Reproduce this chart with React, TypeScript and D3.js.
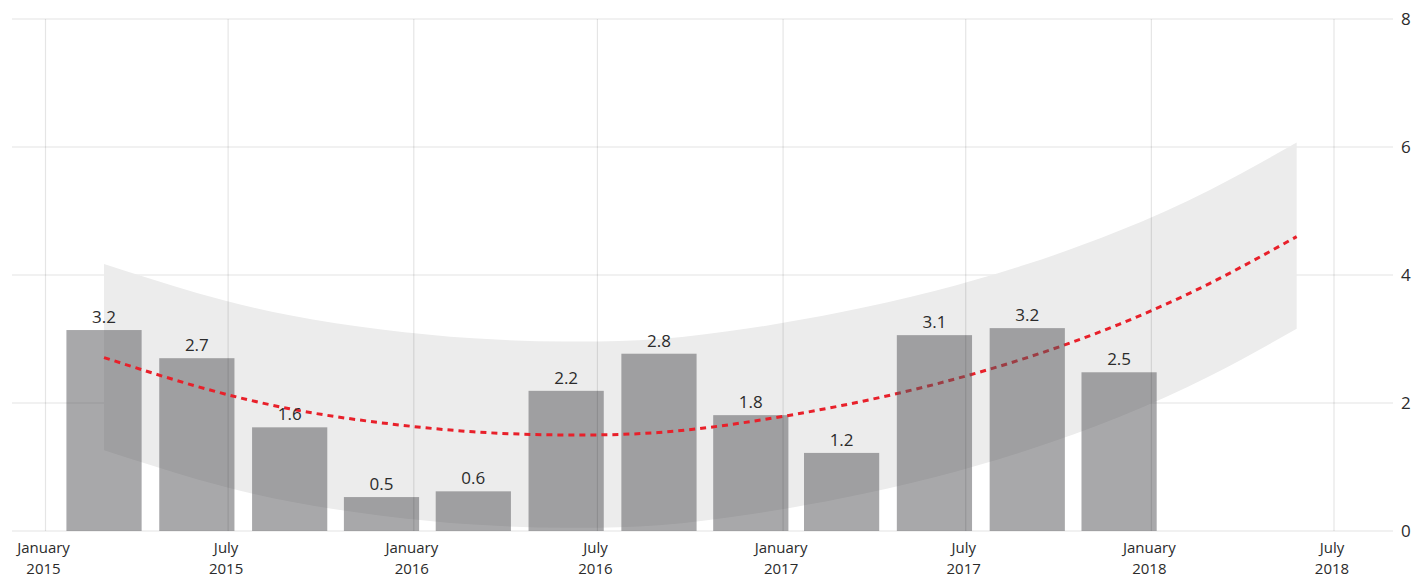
import React from "react";
import * as d3 from "d3";

// ---- data ----
const barDates = [
  "2015-02-28", "2015-05-31", "2015-08-31", "2015-11-30",
  "2016-02-29", "2016-05-31", "2016-08-31", "2016-11-30",
  "2017-02-28", "2017-05-31", "2017-08-31", "2017-11-30",
];
const barValues = [3.14, 2.7, 1.62, 0.53, 0.62, 2.19, 2.77, 1.81, 1.22, 3.06, 3.17, 2.48];
const barLabels = ["3.2", "2.7", "1.6", "0.5", "0.6", "2.2", "2.8", "1.8", "1.2", "3.1", "3.2", "2.5"];

const trendDates = [...barDates, "2018-02-28", "2018-05-25"];
const trendValues = [2.71, 2.26, 1.91, 1.69, 1.55, 1.5, 1.54, 1.71, 1.96, 2.29, 2.71, 3.23, 3.87, 4.6];
const bandUpper = [4.17, 3.72, 3.37, 3.15, 3.01, 2.96, 3.0, 3.17, 3.42, 3.75, 4.17, 4.69, 5.33, 6.07];
const bandLower = [1.26, 0.81, 0.46, 0.24, 0.1, 0.05, 0.09, 0.26, 0.51, 0.84, 1.26, 1.78, 2.42, 3.16];

const xTickDates = [
  "2015-01-01", "2015-07-01", "2016-01-01", "2016-07-01",
  "2017-01-01", "2017-07-01", "2018-01-01", "2018-07-01",
];
const yTicks = [0, 2, 4, 6, 8];

// indices of bars that sit above the trend line in the drawing order
const barsOverTrend = [9, 10];

const W = 1413;
const H = 579;
const FONT = "'Open Sans', 'Noto Sans', sans-serif";

export default function App() {
  const parse = d3.timeParse("%Y-%m-%d");
  const plotLeft = 12;
  const plotRight = 1393;
  const plotTop = 19;
  const plotBottom = 531;

  const x = d3
    .scaleTime()
    .domain([parse("2015-01-01")!, parse("2018-07-01")!])
    .range([45.5, 1334]);
  const y = d3.scaleLinear().domain([0, 8]).range([plotBottom, plotTop]);

  const bDates = barDates.map((d) => parse(d)!);
  const tDates = trendDates.map((d) => parse(d)!);
  const step = (x(bDates[bDates.length - 1]) - x(bDates[0])) / (bDates.length - 1);
  const bw = step * 0.815;

  const bandPts = tDates.map((d, i) => ({ d, lo: bandLower[i], hi: bandUpper[i] }));
  const area = d3
    .area<{ d: Date; lo: number; hi: number }>()
    .x((p) => x(p.d))
    .y0((p) => y(p.lo))
    .y1((p) => y(p.hi))
    .curve(d3.curveNatural);
  const trendPts = tDates.map((d, i) => ({ d, v: trendValues[i] }));
  const line = d3
    .line<{ d: Date; v: number }>()
    .x((p) => x(p.d))
    .y((p) => y(p.v))
    .curve(d3.curveNatural);

  const monthFmt = d3.timeFormat("%B");
  const yearFmt = d3.timeFormat("%Y");

  const bar = (i: number) => (
    <rect
      key={"b" + i}
      x={x(bDates[i]) - bw / 2}
      y={y(barValues[i])}
      width={bw}
      height={y(0) - y(barValues[i])}
      fill="#58585c"
      fillOpacity={0.52}
    />
  );
  const under = barValues.map((_, i) => i).filter((i) => !barsOverTrend.includes(i));

  return (
    <svg
      width={W}
      height={H}
      style={{ position: "absolute", left: 0, top: 0, background: "#fff" }}
      fontFamily={FONT}
    >
      {/* horizontal grid */}
      {yTicks.map((t) => (
        <line key={"h" + t} x1={plotLeft} x2={plotRight} y1={y(t)} y2={y(t)} stroke="#e3e3e3" strokeWidth={1.2} />
      ))}
      {/* confidence band */}
      <path d={area(bandPts) || ""} fill="#ececec" />
      {under.map(bar)}
      {/* trend */}
      <path
        d={line(trendPts) || ""}
        fill="none"
        stroke="#e8202a"
        strokeWidth={3}
        strokeDasharray="6 5"
      />
      {barsOverTrend.map(bar)}
      {/* vertical grid */}
      {xTickDates.map((d) => {
        const xx = x(parse(d)!);
        return (
          <line key={"v" + d} x1={xx} x2={xx} y1={plotTop} y2={plotBottom} stroke="#000" strokeOpacity={0.1} strokeWidth={1.2} />
        );
      })}
      {/* bar labels */}
      {barLabels.map((l, i) => (
        <text
          key={"l" + i}
          x={x(bDates[i])}
          y={y(barValues[i]) - 7}
          textAnchor="middle"
          fontSize={17}
          fill="#2b2b2b"
        >
          {l}
        </text>
      ))}
      {/* y axis labels (right) */}
      {yTicks.map((t) => (
        <text key={"yl" + t} x={1401} y={y(t)} dy="0.35em" fontSize={17} fill="#2b2b2b">
          {t}
        </text>
      ))}
      {/* x axis labels */}
      {xTickDates.map((d) => {
        const dt = parse(d)!;
        const xx = x(dt) - 2;
        return (
          <g key={"xl" + d} fontSize={15} fill="#2b2b2b" textAnchor="middle">
            <text x={xx} y={553}>{monthFmt(dt)}</text>
            <text x={xx} y={574}>{yearFmt(dt)}</text>
          </g>
        );
      })}
    </svg>
  );
}
